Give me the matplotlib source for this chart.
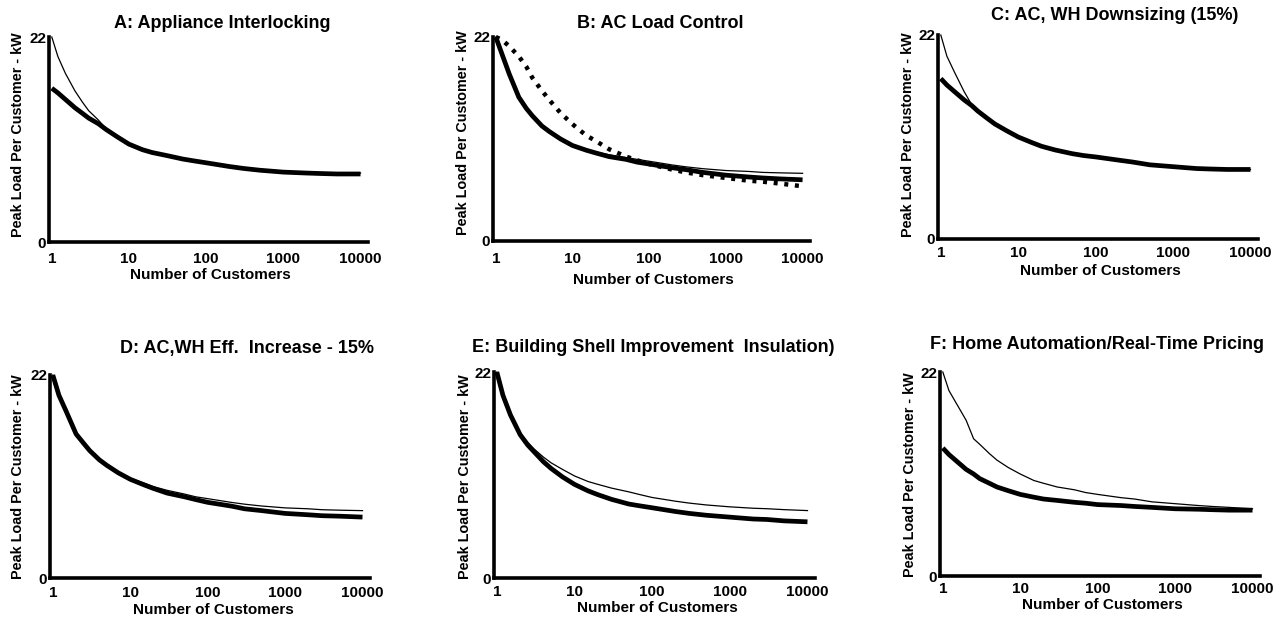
import matplotlib
matplotlib.use("Agg")
import matplotlib.pyplot as plt

plt.rcParams['font.family'] = ['Liberation Sans', 'DejaVu Sans']
plt.rcParams['font.weight'] = 'bold'

# ---- data -------------------------------------------------------------
customers = [1, 1.2, 1.5, 2, 2.5, 3, 4, 5, 7, 10, 15, 20, 30, 50, 70, 100,
             200, 300, 500, 1000, 2000, 3000, 5000, 10000]

a_base = [22, 19.9, 18.1, 16.2, 15.0, 14.1, 13.1, 12.2, 11.3, 10.6, 10.0, 9.7,
          9.35, 8.95, 8.7, 8.5, 8.1, 7.95, 7.8, 7.6, 7.5, 7.45, 7.4, 7.4]
a_prog = [16.5, 16.0, 15.3, 14.4, 13.8, 13.3, 12.7, 12.1, 11.3, 10.5, 9.9, 9.6,
          9.3, 8.9, 8.7, 8.5, 8.1, 7.9, 7.7, 7.5, 7.4, 7.35, 7.3, 7.3]

b_base = [22, 20.2, 18.0, 15.5, 14.3, 13.5, 12.4, 11.8, 11.0, 10.3, 9.8, 9.6,
          9.3, 9.0, 8.8, 8.6, 8.2, 8.0, 7.8, 7.6, 7.5, 7.4, 7.35, 7.3]
b_prog = [22, 20.2, 18.0, 15.5, 14.3, 13.5, 12.4, 11.8, 11.0, 10.3, 9.8, 9.5,
          9.1, 8.8, 8.5, 8.3, 7.9, 7.7, 7.4, 7.1, 6.9, 6.8, 6.7, 6.6]
b_dotted = [22, 21.7, 21.0, 19.9, 18.8, 17.6, 16.2, 15.2, 13.8, 12.6, 11.4, 10.8,
            9.9, 9.1, 8.7, 8.3, 7.7, 7.4, 7.1, 6.8, 6.5, 6.4, 6.2, 5.9]

c_base = [22, 19.7, 18.0, 15.9, 14.5, 13.9, 13.0, 12.4, 11.7, 11.0, 10.4, 10.0,
          9.6, 9.2, 9.0, 8.85, 8.5, 8.3, 8.0, 7.8, 7.6, 7.55, 7.5, 7.5]
c_prog = [17.3, 16.6, 15.9, 15.0, 14.4, 13.8, 13.0, 12.4, 11.7, 11.0, 10.4, 10.0,
          9.6, 9.2, 9.0, 8.85, 8.5, 8.3, 8.0, 7.8, 7.6, 7.55, 7.5, 7.5]

d_base = [22, 19.8, 18.0, 15.6, 14.6, 13.8, 12.8, 12.2, 11.4, 10.8, 10.3, 9.9,
          9.5, 9.1, 8.8, 8.6, 8.2, 8.0, 7.8, 7.6, 7.5, 7.4, 7.35, 7.3]
d_prog = [22, 19.8, 18.0, 15.6, 14.6, 13.8, 12.8, 12.2, 11.4, 10.7, 10.1, 9.7,
          9.2, 8.8, 8.5, 8.2, 7.8, 7.5, 7.3, 7.0, 6.85, 6.75, 6.7, 6.6]

e_base = [22, 19.6, 17.6, 15.5, 14.5, 13.8, 12.9, 12.3, 11.6, 10.9, 10.3, 10.0,
          9.6, 9.2, 8.9, 8.6, 8.2, 8.0, 7.8, 7.6, 7.45, 7.4, 7.3, 7.2]
e_prog = [22, 19.5, 17.4, 15.3, 14.2, 13.5, 12.4, 11.7, 10.8, 10.0, 9.3, 8.9,
          8.4, 7.9, 7.7, 7.5, 7.1, 6.9, 6.7, 6.5, 6.3, 6.25, 6.1, 6.0]

f_base = [22, 20.0, 18.6, 16.8, 14.8, 14.2, 13.2, 12.5, 11.7, 11.0, 10.3, 10.0,
          9.6, 9.3, 9.0, 8.8, 8.45, 8.3, 8.0, 7.8, 7.6, 7.5, 7.4, 7.25]
f_prog = [13.8, 13.1, 12.4, 11.5, 11.0, 10.5, 10.0, 9.6, 9.2, 8.8, 8.5, 8.3,
          8.15, 7.95, 7.85, 7.7, 7.6, 7.5, 7.4, 7.25, 7.2, 7.15, 7.1, 7.1]

titles = ["A: Appliance Interlocking", "B: AC Load Control",
          "C: AC, WH Downsizing (15%)", "D: AC,WH Eff.  Increase - 15%",
          "E: Building Shell Improvement  Insulation)",
          "F: Home Automation/Real-Time Pricing"]
xticks = [1, 10, 100, 1000, 10000]
xtick_labels = ["1", "10", "100", "1000", "10000"]
yticks = [0, 22]
ylabel = "Peak Load Per Customer - kW"
xlabel = "Number of Customers"

# ---- layout (pixels) --------------------------------------------------
W, H = 1273, 620
# left, right, top(22), bottom(0)
boxes = [(49, 368, 37, 242), (493, 810, 37, 241), (938, 1258, 35, 239),
         (50, 370, 375, 578), (494, 815, 372, 578), (940, 1260, 372, 576)]
title_pos = [(222, 23), (660, 23), (1115, 16), (247, 348), (653, 347), (1097, 345)]
xlab_pos = [(210, 275), (653, 280), (1100, 271), (213, 610), (657, 608), (1102, 605)]
ylab_pos = [(18, 135), (463, 133), (908, 135), (18, 477), (465, 477), (910, 475)]
xpads = [7, 8, 5, 6, 5, 4]

series = [
    [(a_prog, 'thick'), (a_base, 'thin')],
    [(b_prog, 'thick'), (b_base, 'thin'), (b_dotted, 'dot')],
    [(c_prog, 'thick'), (c_base, 'thin')],
    [(d_prog, 'thick'), (d_base, 'thin')],
    [(e_prog, 'thick'), (e_base, 'thin')],
    [(f_prog, 'thick'), (f_base, 'thin')],
]

fig = plt.figure(figsize=(W / 100, H / 100), dpi=100)

for i in range(6):
    l, r, t, b = boxes[i]
    ax = fig.add_axes([l / W, 1 - b / H, (r - l) / W, (b - t) / H])
    for vals, kind in series[i]:
        if kind == 'thick':
            ax.plot(customers, vals, color='black', lw=3.4,
                    solid_capstyle='butt', solid_joinstyle='round',
                    clip_on=False, zorder=3)
        elif kind == 'thin':
            ax.plot(customers, vals, color='black', lw=0.9,
                    clip_on=False, zorder=4)
        else:
            ax.plot(customers, vals, color='black', lw=3.2,
                    linestyle=(0, (0.9, 1.5)), clip_on=False, zorder=4)
    ax.set_xscale('log')
    ax.set_xlim(0.92, 12500)
    ax.set_ylim(0, 22)
    ax.set_xticks(xticks)
    ax.set_xticklabels(xtick_labels)
    ax.minorticks_off()
    ax.set_yticks(yticks)
    ax.set_yticklabels([str(v) for v in yticks])
    ax.tick_params(axis='both', length=0, labelsize=11)
    ax.tick_params(axis='x', pad=xpads[i])
    ax.tick_params(axis='y', pad=2)
    for lab in ax.get_xticklabels() + ax.get_yticklabels():
        lab.set_fontweight('bold')
    for s in ['top', 'right']:
        ax.spines[s].set_visible(False)
    for s in ['left', 'bottom']:
        ax.spines[s].set_linewidth(2.6)
        ax.spines[s].set_capstyle('projecting')
    ax.patch.set_alpha(0)

    tx, ty = title_pos[i]
    fig.text(tx / W, 1 - ty / H, titles[i], ha='center', va='center',
             fontsize=13, fontweight='bold')
    lx, ly = xlab_pos[i]
    fig.text(lx / W, 1 - ly / H, xlabel, ha='center', va='center',
             fontsize=11, fontweight='bold')
    yx, yy = ylab_pos[i]
    fig.text(yx / W, 1 - yy / H, ylabel, ha='center', va='center',
             rotation=90, fontsize=10.4, fontweight='bold')

fig.savefig("out.png", dpi=100)
